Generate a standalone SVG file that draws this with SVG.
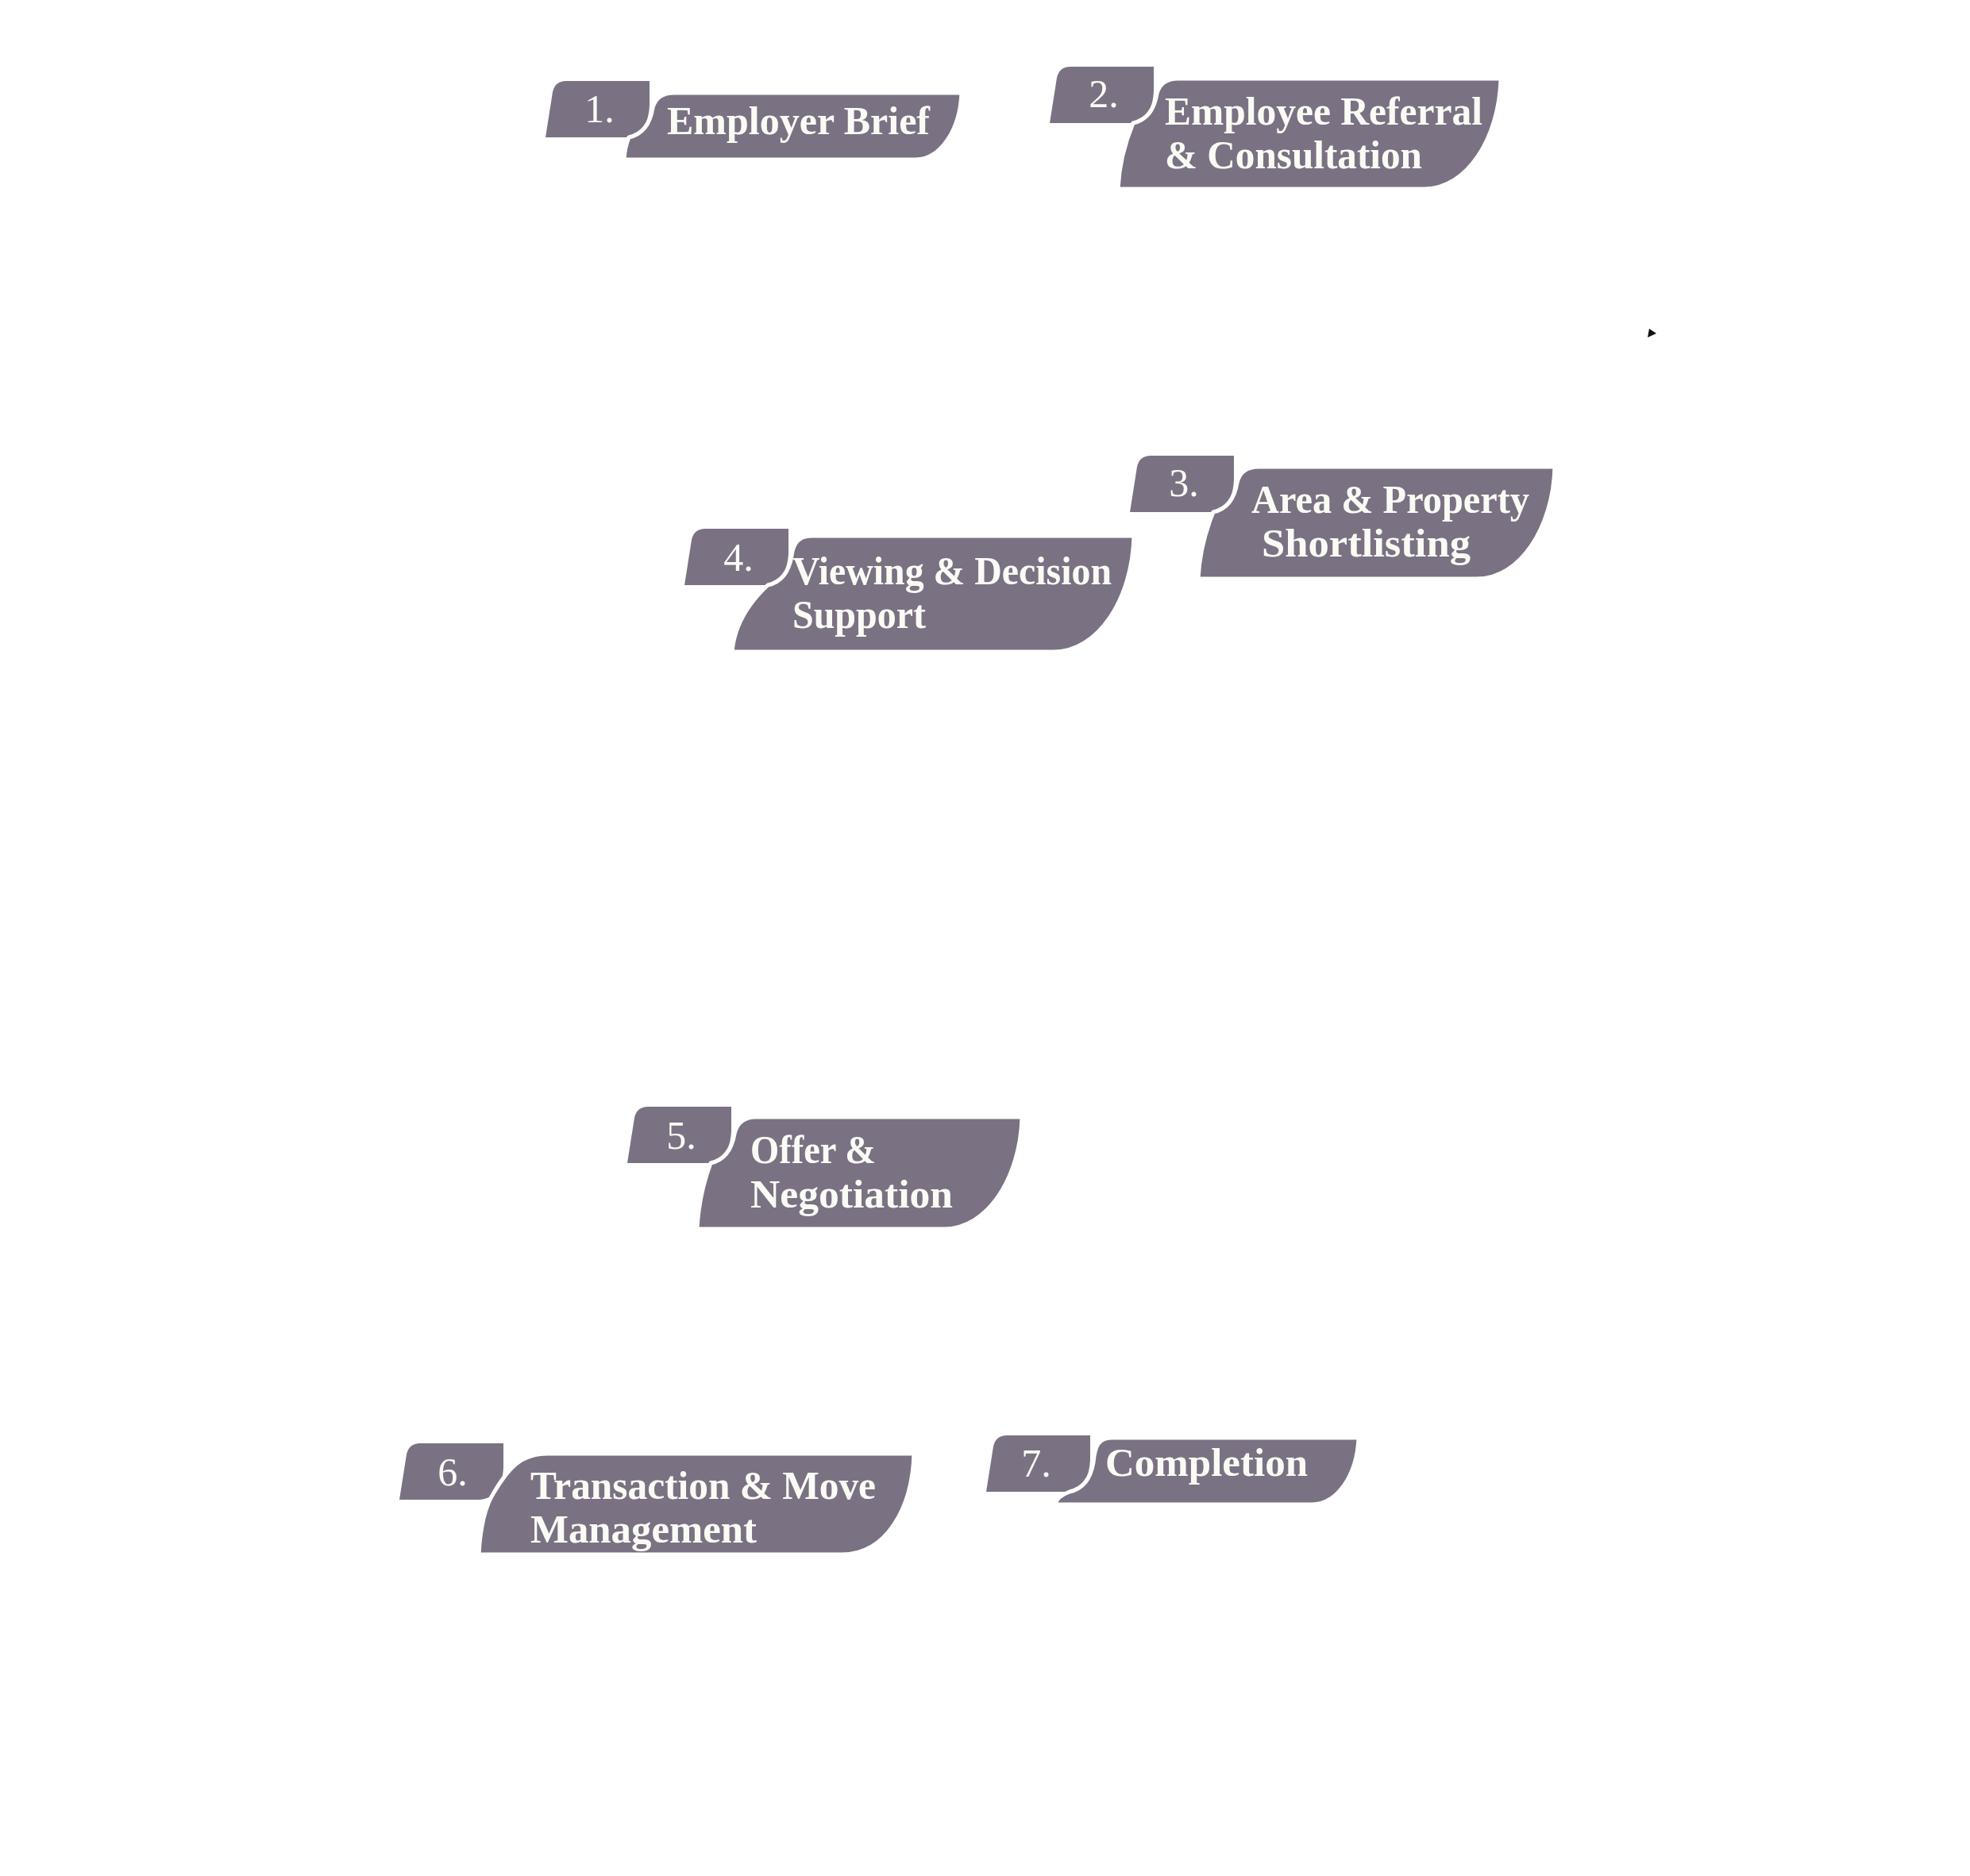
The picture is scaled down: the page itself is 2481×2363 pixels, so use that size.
<svg xmlns="http://www.w3.org/2000/svg" width="2481" height="2363" viewBox="0 0 2481 2363">
<style>
.tab{fill:#7a7282}
.main{fill:#7a7282;stroke:#ffffff;stroke-width:5;stroke-linejoin:round}
.num{font-family:"Liberation Serif",serif;font-size:50px;fill:#fbfbf6;text-anchor:middle}
.lbl{font-family:"Liberation Serif",serif;font-weight:bold;font-size:50px;fill:#fbfbf6}
</style>
<rect width="2481" height="2363" fill="#ffffff"/>
<g id="connectors">
<path d="M2077,414 L2086,420 L2075,425 Z" fill="#111111"/>
</g>
<g id="node1">
<path class="tab" d="M687,173 L696,116 Q699,102 713,102 L818,102 L818,132 C817,157 807,172 787,173 Z"/>
<path class="main" d="M786,201 Q787,185 792,173 C810,169 819,154 822,136 C825,124 833,117 849,117 L1211,117 C1209,163 1185,201 1153,201 Z"/>
<text class="num" x="755" y="154">1.</text>
<text class="lbl" x="840" y="169" textLength="331" lengthAdjust="spacingAndGlyphs">Employer Brief</text>
</g>
<g id="node2">
<path class="tab" d="M1322,155 L1331,98 Q1334,84 1348,84 L1453,84 L1453,114 C1452,139 1442,154 1422,155 Z"/>
<path class="main" d="M1408,238 Q1410,196 1427,155 C1445,151 1454,136 1457,118 C1460,106 1468,99 1484,99 L1890,99 C1888,175 1847,238 1794,238 Z"/>
<text class="num" x="1390" y="135">2.</text>
<text class="lbl" x="1467" y="157" textLength="400" lengthAdjust="spacingAndGlyphs">Employee Referral</text>
<text class="lbl" x="1467" y="212" textLength="324" lengthAdjust="spacingAndGlyphs">&amp; Consultation</text>
</g>
<g id="node3">
<path class="tab" d="M1423,645 L1432,588 Q1435,574 1449,574 L1554,574 L1554,604 C1553,629 1543,644 1523,645 Z"/>
<path class="main" d="M1509,729 Q1511,687 1528,645 C1546,641 1555,626 1558,608 C1561,595 1569,588 1585,588 L1958,588 C1956,665 1914,729 1860,729 Z"/>
<text class="num" x="1491" y="625">3.</text>
<text class="lbl" x="1576" y="646" textLength="350" lengthAdjust="spacingAndGlyphs">Area &amp; Property</text>
<text class="lbl" x="1589" y="701" textLength="263" lengthAdjust="spacingAndGlyphs">Shortlisting</text>
</g>
<g id="node4">
<path class="tab" d="M862,737 L871,680 Q874,666 888,666 L993,666 L993,696 C992,721 982,736 962,737 Z"/>
<path class="main" d="M922,821 Q926,775 967,737 C985,733 994,718 997,700 C999,684 1006,675 1022,675 L1428,675 C1426,755 1383,821 1327,821 Z"/>
<text class="num" x="930" y="719">4.</text>
<text class="lbl" x="998" y="736" textLength="402" lengthAdjust="spacingAndGlyphs">Viewing &amp; Decision</text>
<text class="lbl" x="998" y="791" textLength="168" lengthAdjust="spacingAndGlyphs">Support</text>
</g>
<g id="node5">
<path class="tab" d="M790,1465 L799,1408 Q802,1394 816,1394 L921,1394 L921,1424 C920,1449 910,1464 890,1465 Z"/>
<path class="main" d="M878,1548 Q880,1506 895,1465 C913,1461 922,1446 925,1428 C928,1415 936,1407 952,1407 L1287,1407 C1285,1484 1243,1548 1189,1548 Z"/>
<text class="num" x="858" y="1447">5.</text>
<text class="lbl" x="945" y="1465" textLength="158" lengthAdjust="spacingAndGlyphs">Offer &amp;</text>
<text class="lbl" x="945" y="1521" textLength="255" lengthAdjust="spacingAndGlyphs">Negotiation</text>
</g>
<g id="node6">
<path class="tab" d="M503,1889 L512,1832 Q515,1818 529,1818 L634,1818 L634,1848 C633,1873 623,1888 603,1889 Z"/>
<path class="main" d="M603,1958 Q606,1905 622,1880 C640,1850 655,1831 690,1831 L1151,1831 C1149,1900 1116,1958 1060,1958 Z"/>
<text class="num" x="570" y="1871">6.</text>
<text class="lbl" x="668" y="1888" textLength="435" lengthAdjust="spacingAndGlyphs">Transaction &amp; Move</text>
<text class="lbl" x="668" y="1943" textLength="285" lengthAdjust="spacingAndGlyphs">Management</text>
</g>
<g id="node7">
<path class="tab" d="M1242,1879 L1251,1822 Q1254,1808 1268,1808 L1373,1808 L1373,1838 C1372,1863 1362,1878 1342,1879 Z"/>
<path class="main" d="M1329,1895 Q1331,1885 1347,1879 C1365,1875 1374,1860 1377,1842 C1379,1822 1383,1811 1400,1811 L1711,1811 C1709,1857 1685,1895 1652,1895 Z"/>
<text class="num" x="1305" y="1860">7.</text>
<text class="lbl" x="1392" y="1859" textLength="255" lengthAdjust="spacingAndGlyphs">Completion</text>
</g>
</svg>
